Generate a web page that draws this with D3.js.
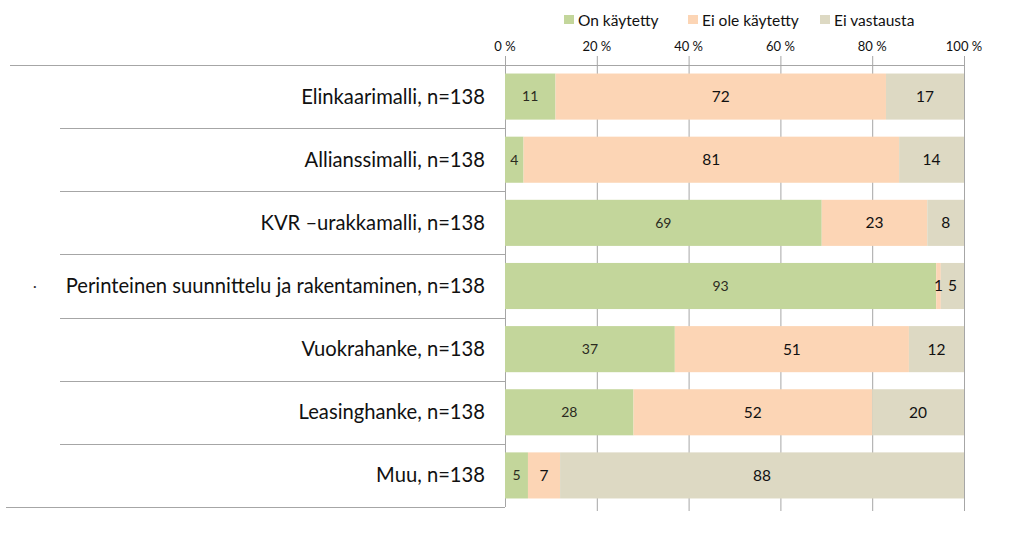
<!DOCTYPE html>
<html><head><meta charset="utf-8">
<script src="https://cdn.jsdelivr.net/npm/d3@7"></script>
<style>body{margin:0;background:#fff}svg{display:block}text{font-family:Lato,"Open Sans",sans-serif}</style>
</head><body><svg id="c" width="1024" height="545"></svg>
<script>
const categories = ["Elinkaarimalli, n=138","Allianssimalli, n=138","KVR \u2013urakkamalli, n=138","Perinteinen suunnittelu ja rakentaminen, n=138","Vuokrahanke, n=138","Leasinghanke, n=138","Muu, n=138"];
const seriesNames = ["On käytetty","Ei ole käytetty","Ei vastausta"];
const onKaytetty = [11,4,69,93,37,28,5];
const eiOleKaytetty = [72,81,23,1,51,52,7];
const eiVastausta = [17,14,8,5,12,20,88];
const tickValues = [0,20,40,60,80,100];
const colors = ["#c3d69b","#fcd5b5","#ddd9c3"];

const svg = d3.select("#c");
const x0 = 505, x1 = 964, yTop = 65, yBot = 507;
const x = d3.scaleLinear().domain([0,100]).range([x0,x1]);
const y = d3.scaleBand().domain(categories).range([yTop,yBot]).paddingInner(0.27).paddingOuter(0.135);
const yb = d3.scaleBand().domain(categories).range([yTop,yBot]);

const rows = categories.map((c,i)=>{
  const v=[onKaytetty[i],eiOleKaytetty[i],eiVastausta[i]];
  const s=d3.sum(v); let acc=0;
  return v.map((d,j)=>{const a=acc/s*100; acc+=d; return {cat:c,j,val:d,a,b:acc/s*100};});
});

// gridlines
svg.append("g").selectAll("line").data(tickValues).join("line")
  .attr("x1",d=>x(d)+0.5).attr("x2",d=>x(d)+0.5).attr("y1",56).attr("y2",d=>d===0?yBot:511)
  .attr("stroke","#a6a6a6").attr("stroke-width",1);
// top line
svg.append("line").attr("x1",10).attr("x2",x1).attr("y1",yTop+0.5).attr("y2",yTop+0.5).attr("stroke","#a6a6a6");
// separators
svg.append("g").selectAll("line").data(categories.slice(1)).join("line")
  .attr("x1",60).attr("x2",x0).attr("y1",d=>Math.round(yb(d))+0.5).attr("y2",d=>Math.round(yb(d))+0.5)
  .attr("stroke","#a6a6a6");
svg.append("line").attr("x1",6).attr("x2",x0).attr("y1",yBot+0.5).attr("y2",yBot+0.5).attr("stroke","#a6a6a6");

// bars
const g = svg.append("g");
rows.forEach(r=>{
  g.selectAll(null).data(r).join("rect")
    .attr("x",d=>x(d.a)).attr("width",d=>x(d.b)-x(d.a))
    .attr("y",d=>y(d.cat)).attr("height",y.bandwidth())
    .attr("fill",d=>colors[d.j]);
  g.selectAll(null).data(r).join("text")
    .attr("x",d=>(x(d.a)+x(d.b))/2)
    .attr("y",d=>y(d.cat)+y.bandwidth()/2)
    .attr("dy","0.35em").attr("text-anchor","middle")
    .attr("font-size",d=>d.j===0?"14px":"15.5px").attr("fill",d=>d.j===0?"#2b2b1f":"#111")
    .text(d=>d.val);
});

// category labels
svg.append("g").selectAll("text").data(categories).join("text")
  .attr("x",485).attr("y",d=>yb(d)+yb.bandwidth()/2).attr("dy","0.35em")
  .attr("text-anchor","end").attr("font-size","20.2px").attr("fill","#111").text(d=>d);
svg.append("text").attr("x",33).attr("y",yb(categories[3])+yb.bandwidth()/2).attr("dy","0.35em")
  .attr("font-size","14px").attr("fill","#333").text("·");

// tick labels
svg.append("g").selectAll("text").data(tickValues).join("text")
  .attr("x",d=>x(d)).attr("y",51).attr("text-anchor","middle")
  .attr("font-size","13px").attr("fill","#111").text(d=>d+" %");

// legend
const legX=[564,688,820];
const lg = svg.append("g").selectAll("g").data(seriesNames).join("g")
  .attr("transform",(d,i)=>`translate(${legX[i]},0)`);
lg.append("rect").attr("x",0).attr("y",15).attr("width",10).attr("height",9).attr("fill",(d,i)=>colors[i]);
lg.append("text").attr("x",14).attr("y",26).attr("font-size","15.5px").attr("fill","#111").text(d=>d);
</script></body></html>
